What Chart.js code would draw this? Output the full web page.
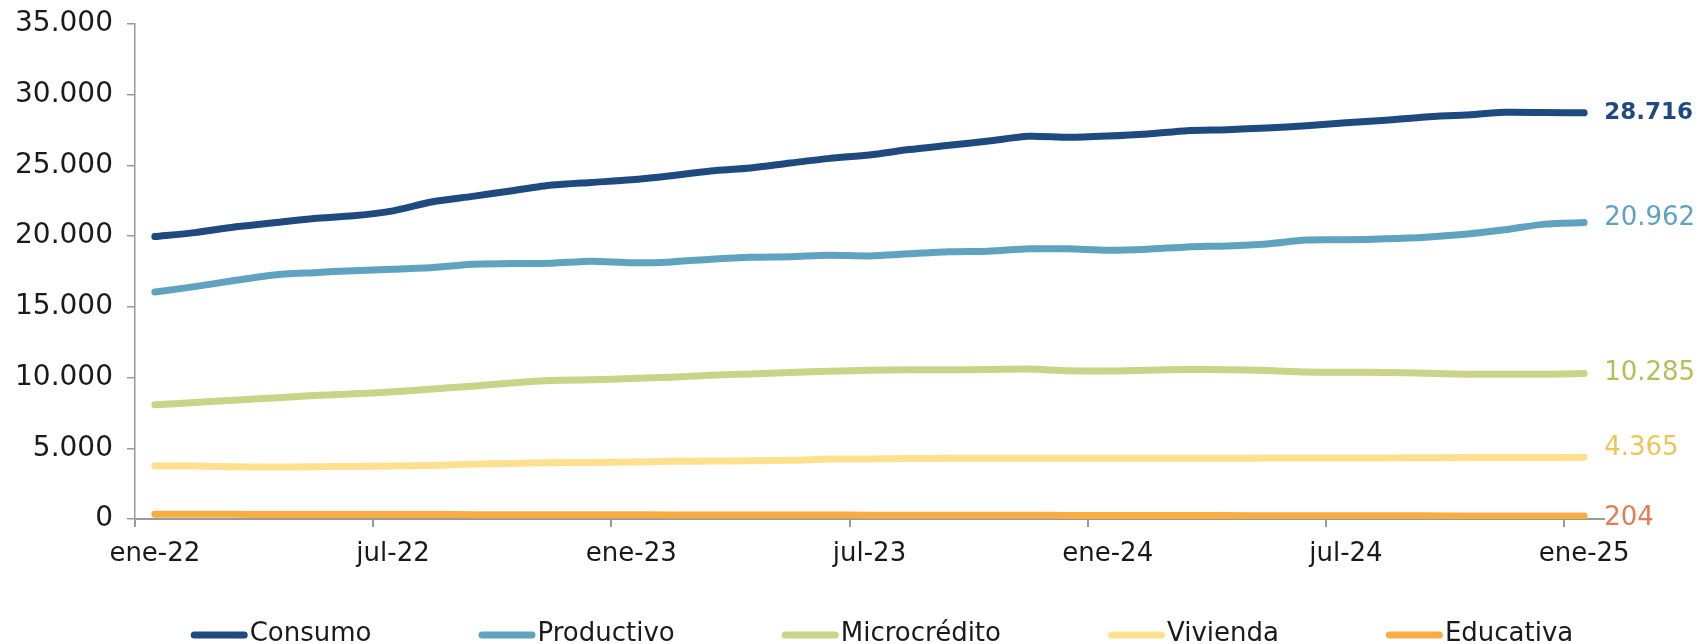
<!DOCTYPE html>
<html>
<head>
<meta charset="utf-8">
<script src="https://cdn.jsdelivr.net/npm/chart.js@4.4.1/dist/chart.umd.min.js"></script>
<style>
  html, body { margin: 0; padding: 0; background: #fff; }
  #wrap { width: 1700px; height: 644px; position: relative; }
</style>
</head>
<body>
<div id="wrap"><canvas id="chart"></canvas></div>
<script>
const months = ['ene','feb','mar','abr','may','jun','jul','ago','sep','oct','nov','dic'];
const labels = [];
for (let y = 22; y <= 25; y++) {
  months.forEach(m => { if (labels.length < 37) labels.push(`${m}-${y}`); });
}

const consumo = [19970, 20250, 20650, 20940, 21250, 21440, 21790, 22430, 22810, 23210, 23610, 23800,
  23980, 24270, 24610, 24820, 25170, 25500, 25740, 26120, 26420, 26730, 27060, 26990,
  27080, 27230, 27460, 27530, 27650, 27800, 28010, 28190, 28430, 28570, 28760, 28740, 28716];
const productivo = [16050, 16430, 16860, 17260, 17420, 17560, 17660, 17780, 18020, 18060, 18090, 18230,
  18120, 18180, 18370, 18510, 18550, 18650, 18600, 18750, 18890, 18940, 19100, 19100,
  19010, 19080, 19240, 19310, 19450, 19720, 19740, 19810, 19930, 20140, 20450, 20850, 20962];
const microcredito = [8070, 8240, 8400, 8560, 8730, 8850, 8990, 9200, 9390, 9620, 9790, 9840,
  9940, 10030, 10170, 10260, 10360, 10450, 10520, 10550, 10550, 10570, 10600, 10480,
  10460, 10520, 10570, 10550, 10500, 10400, 10380, 10360, 10310, 10240, 10240, 10240, 10285];
const vivienda = [3770, 3740, 3700, 3670, 3700, 3720, 3740, 3790, 3880, 3930, 3980, 4000,
  4030, 4080, 4100, 4120, 4150, 4240, 4240, 4270, 4290, 4290, 4290, 4290,
  4290, 4295, 4300, 4300, 4305, 4310, 4310, 4320, 4335, 4340, 4345, 4350, 4365];
const educativa = [335, 332, 328, 326, 322, 320, 318, 312, 308, 305, 300, 298,
  294, 290, 287, 283, 280, 276, 273, 268, 265, 262, 258, 255,
  251, 248, 245, 240, 237, 233, 229, 225, 221, 217, 212, 208, 204];

const yTicks = [0, 5000, 10000, 15000, 20000, 25000, 30000, 35000];

const FONT = "'DejaVu Sans', sans-serif";
const fmt = v => String(v).replace(/\B(?=(\d{3})+(?!\d))/g, '.');

const series = [
  { label: 'Consumo', data: consumo, color: '#1f4a7f', labelColor: '#1f4a7f', bold: true, dy: 0 },
  { label: 'Productivo', data: productivo, color: '#5fa3c0', labelColor: '#5fa3c0', bold: false, dy: -4 },
  { label: 'Microcrédito', data: microcredito, color: '#cbd388', labelColor: '#b6be5c', bold: false, dy: 0 },
  { label: 'Vivienda', data: vivienda, color: '#fee08e', labelColor: '#efc55a', bold: false, dy: -9 },
  { label: 'Educativa', data: educativa, color: '#f8ad43', labelColor: '#e27d55', bold: false, dy: 2 },
];

// value labels at the end of each line
const endLabels = {
  id: 'endLabels',
  afterDatasetsDraw(chart) {
    const ctx = chart.ctx;
    ctx.save();
    ctx.textAlign = 'left';
    ctx.textBaseline = 'middle';
    chart.data.datasets.forEach((ds, i) => {
      const pts = chart.getDatasetMeta(i).data;
      const last = pts[pts.length - 1];
      const s = series[i];
      ctx.font = `${s.bold ? 'bold ' : ''}${s.bold ? 23 : 26}px ${FONT}`;
      ctx.fillStyle = s.labelColor;
      ctx.fillText(fmt(ds.data[ds.data.length - 1]), last.x + 20, last.y + s.dy);
    });
    ctx.restore();
  }
};

// legend drawn below the axis: line swatch + text
const bottomLegend = {
  id: 'bottomLegend',
  afterDraw(chart) {
    const ctx = chart.ctx;
    const swatch = 57, gap = 2, pad = 107, cy = 634, centerX = 882;
    ctx.save();
    ctx.font = `26px ${FONT}`;
    const widths = series.map(s => ctx.measureText(s.label).width);
    const total = widths.reduce((a, w) => a + swatch + gap + w, 0) + pad * (series.length - 1);
    let x = centerX - total / 2;
    ctx.textAlign = 'left';
    ctx.textBaseline = 'middle';
    series.forEach((s, i) => {
      ctx.strokeStyle = s.color;
      ctx.lineWidth = 7;
      ctx.lineCap = 'round';
      ctx.beginPath();
      ctx.moveTo(x + 3.5, cy + 1);
      ctx.lineTo(x + swatch - 3.5, cy + 1);
      ctx.stroke();
      ctx.fillStyle = '#1a1a1a';
      ctx.fillText(s.label, x + swatch + gap, cy);
      x += swatch + gap + widths[i] + pad;
    });
    ctx.restore();
  }
};

new Chart(document.getElementById('chart'), {
  type: 'line',
  data: {
    labels,
    datasets: series.map(s => ({
      label: s.label,
      data: s.data,
      borderColor: s.color,
      backgroundColor: s.color,
      borderWidth: 7,
      borderCapStyle: 'round',
      borderJoinStyle: 'round',
      pointRadius: 0,
      tension: 0.25,
      fill: false,
    }))
  },
  options: {
    responsive: true,
    maintainAspectRatio: false,
    devicePixelRatio: 1,
    animation: false,
    layout: { padding: { top: 24, right: 96, bottom: 0, left: 0 } },
    plugins: {
      legend: { display: false },
      tooltip: { enabled: false },
    },
    scales: {
      x: {
        offset: true,
        border: { display: true, color: '#9a9a9a', width: 2 },
        grid: {
          offset: true,
          drawOnChartArea: false,
          drawTicks: true,
          tickLength: 8,
          lineWidth: 2,
          color: c => (c.index % 6 === 0 ? '#9a9a9a' : 'rgba(0,0,0,0)'),
        },
        ticks: {
          autoSkip: false,
          maxRotation: 0,
          padding: 12,
          color: '#1a1a1a',
          font: { family: FONT, size: 26 },
          callback: (v, i) => (i % 6 === 0 ? labels[i] : ''),
        },
        afterFit: scale => { scale.height = 125; },
      },
      y: {
        min: 0,
        max: 35000,
        afterBuildTicks: scale => { scale.ticks = yTicks.map(v => ({ value: v })); },
        border: { display: true, color: '#9a9a9a', width: 1.5 },
        grid: {
          drawOnChartArea: false,
          drawTicks: true,
          tickLength: 8,
          color: '#9a9a9a',
          lineWidth: 1.5,
        },
        ticks: {
          padding: 14,
          color: '#1a1a1a',
          font: { family: FONT, size: 28 },
          callback: v => fmt(v),
        },
        afterFit: scale => {
          scale.width = 135;
          scale.paddingTop = 0;
          scale.paddingBottom = 0;
        },
      }
    }
  },
  plugins: [endLabels, bottomLegend]
});
</script>
</body>
</html>
